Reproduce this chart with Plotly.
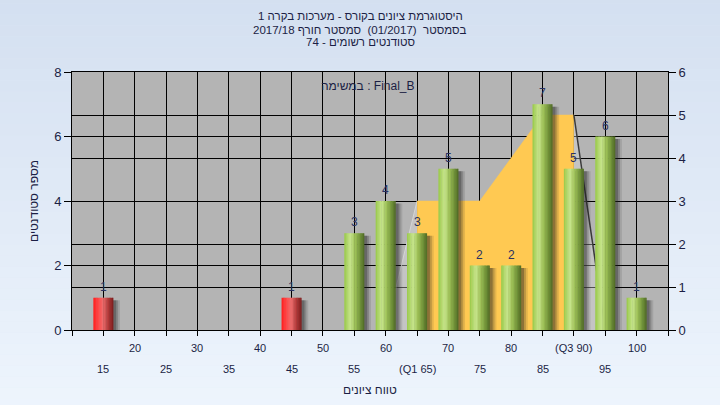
import plotly.graph_objects as go

# ---------------- data ----------------
grades = [15, 20, 25, 30, 35, 40, 45, 50, 55, 60, 65, 70, 75, 80, 85, 90, 95, 100]
counts = [1, 0, 0, 0, 0, 0, 1, 0, 3, 4, 3, 5, 2, 2, 7, 5, 6, 1]
tick_labels = ["15", "20", "25", "30", "35", "40", "45", "50", "55", "60",
               "(Q1 65)", "70", "75", "80", "85", "(Q3 90)", "95", "100"]
pass_grade = 55

box_x = [60, 65, 70, 75, 80, 85, 90, 95]
box_y = [0, 3, 3, 3, 4, 5, 5, 0]
q1, q3 = 65, 90

left_ticks = [0, 2, 4, 6, 8]
right_ticks = [0, 1, 2, 3, 4, 5, 6]

title_lines = [
    "היסטוגרמת ציונים בקורס - מערכות בקרה 1",
    "בסמסטר\u00a0 (01/2017)\u00a0 סמסטר חורף 2017/18",
    "סטודנטים רשומים - 74",
]
task_label = "במשימה : Final_B"
x_title = "טווח ציונים"
y_title = "מספר סטודנטים"

# ---------------- style ----------------
FONT = "Liberation Sans, Arial, DejaVu Sans, sans-serif"
TXT = "#1c1f45"
BAR_W = 3.2
N_BANDS = 14
green_scale = [(0, (152, 200, 72)), (0.3, (200, 230, 142)), (0.55, (156, 192, 86)),
               (0.8, (112, 146, 56)), (1, (78, 104, 36))]
red_scale = [(0, (255, 30, 30)), (0.3, (255, 80, 80)), (0.48, (236, 110, 110)),
             (0.75, (176, 56, 56)), (1, (122, 28, 28))]


def interp(scale, t):
    for (p0, c0), (p1, c1) in zip(scale[:-1], scale[1:]):
        if p0 <= t <= p1:
            f = (t - p0) / (p1 - p0)
            c = [round(a + (b - a) * f) for a, b in zip(c0, c1)]
            return "rgb(%d,%d,%d)" % tuple(c)
    c = scale[-1][1]
    return "rgb(%d,%d,%d)" % c


fig = go.Figure()

# background gradient (paper) and plot area
top_c, bot_c = (211, 223, 240), (238, 245, 253)
n_strips = 40
y_lo, y_hi = -0.35, 1.35
for i in range(n_strips):
    a = y_lo + (y_hi - y_lo) * i / n_strips
    b = y_lo + (y_hi - y_lo) * (i + 1) / n_strips
    f = i / (n_strips - 1)
    c = tuple(round(bc + (tc - bc) * f) for tc, bc in zip(top_c, bot_c))
    fig.add_shape(type="rect", xref="paper", yref="paper", x0=-0.3, x1=1.3,
                  y0=a, y1=b + 0.001, fillcolor="rgb(%d,%d,%d)" % c,
                  line_width=0, layer="below")
fig.add_shape(type="rect", xref="paper", yref="paper", x0=0, x1=1, y0=0, y1=1,
              fillcolor="#b4b4b4", line_width=0, layer="below")

# quartile area (right axis)
lx = [x for x in box_x if x <= q1]
ly = [y for x, y in zip(box_x, box_y) if x <= q1]
mx = [x for x in box_x if q1 <= x <= q3]
my = [y for x, y in zip(box_x, box_y) if q1 <= x <= q3]
rx = [x for x in box_x if x >= q3]
ry = [y for x, y in zip(box_x, box_y) if x >= q3]

fig.add_trace(go.Scatter(x=lx, y=ly, yaxis="y", mode="lines", fill="tozeroy",
                         fillcolor="rgba(225,225,225,0.35)",
                         line=dict(color="rgba(215,215,215,0.9)", width=1),
                         hoverinfo="skip", showlegend=False))
fig.add_trace(go.Scatter(x=mx, y=my, yaxis="y", mode="lines", fill="tozeroy",
                         fillcolor="#ffc952", line=dict(color="#ffc952", width=0.5),
                         hoverinfo="skip", showlegend=False))
fig.add_trace(go.Scatter(x=rx, y=ry, yaxis="y", mode="lines", fill="tozeroy",
                         fillcolor="rgba(225,225,225,0.35)",
                         line=dict(color="#3a3a3a", width=1.5),
                         hoverinfo="skip", showlegend=False))

# bar shadows
for off, alpha in [(1.05, 0.12), (0.75, 0.2), (0.45, 0.3)]:
    fig.add_trace(go.Bar(x=grades, y=[max(c - 0.08, 0) for c in counts], yaxis="y2",
                         width=BAR_W, offset=-BAR_W / 2 + off,
                         marker=dict(color="rgba(30,30,30,%.2f)" % alpha, line_width=0),
                         hoverinfo="skip", showlegend=False))

# cylinder-like bars built of vertical bands
bw = BAR_W / N_BANDS
for i in range(N_BANDS):
    t = (i + 0.5) / N_BANDS
    cols = [interp(red_scale if g < pass_grade else green_scale, t) for g in grades]
    w = bw * 1.3 if i < N_BANDS - 1 else bw
    fig.add_trace(go.Bar(x=grades, y=counts, yaxis="y2", width=w,
                         offset=-BAR_W / 2 + i * bw,
                         marker=dict(color=cols, line_width=0),
                         hoverinfo="skip", showlegend=False))

annotations = []
# value labels above bars
for g, c in zip(grades, counts):
    if c > 0:
        annotations.append(dict(x=g, xref="x", y=c, yref="y2", yanchor="middle",
                                yshift=11, text=str(c), showarrow=False,
                                font=dict(family=FONT, size=12, color="#2a3262")))
# x tick labels in two rows
for i, (g, lab) in enumerate(zip(grades, tick_labels)):
    annotations.append(dict(x=g, xref="x", y=0, yref="paper", yanchor="middle",
                            yshift=-39 if i % 2 == 0 else -17.5, text=lab,
                            showarrow=False, font=dict(family=FONT, size=11, color=TXT)))
# titles
for line, ys in zip(title_lines, [55.6, 42.3, 30.0]):
    annotations.append(dict(x=(360 - 72) / 596, xref="paper", y=1, yref="paper",
                            yanchor="middle", yshift=ys, text=line, showarrow=False,
                            borderpad=0,
                            font=dict(family=FONT, size=11.5, color=TXT)))
annotations.append(dict(x=0.497, xref="paper", y=1, yref="paper", yanchor="middle",
                        yshift=-13.5, text=task_label, showarrow=False,
                        font=dict(family=FONT, size=12, color=TXT)))
annotations.append(dict(x=0.5, xref="paper", y=0, yref="paper", yanchor="middle",
                        yshift=-60, text=x_title, showarrow=False,
                        font=dict(family=FONT, size=12, color=TXT)))
annotations.append(dict(x=(34 - 72) / 596, xref="paper", y=0.5, yref="paper",
                        xanchor="center", yanchor="middle", textangle=-90,
                        text=y_title, showarrow=False,
                        font=dict(family=FONT, size=12, color=TXT)))

fig.update_layout(
    width=720, height=405,
    margin=dict(l=72, r=52, t=72, b=75, pad=0, autoexpand=False),
    paper_bgcolor="#e0eaf6", plot_bgcolor="#b4b4b4",
    barmode="overlay", showlegend=False,
    font=dict(family=FONT, size=12, color=TXT),
    xaxis=dict(range=[10, 105], tickvals=[10] + grades + [105], showticklabels=False,
               ticks="outside", ticklen=5, tickcolor="black", showgrid=True,
               gridcolor="black", gridwidth=1, showline=True, linecolor="black",
               linewidth=1, mirror=True, zeroline=False, automargin=False),
    yaxis=dict(range=[0, 6], side="right", tickvals=right_ticks, ticks="outside",
               ticklen=7, tickcolor="black", showgrid=True, gridcolor="black",
               gridwidth=1, showline=True, linecolor="black", zeroline=False,
               automargin=False, tickfont=dict(family=FONT, size=13, color=TXT)),
    yaxis2=dict(range=[0, 8], side="left", overlaying="y", tickvals=left_ticks,
                ticks="outside", ticklen=7, tickcolor="black", showgrid=True,
                gridcolor="black", gridwidth=1, showline=True, linecolor="black",
                zeroline=False, automargin=False,
                tickfont=dict(family=FONT, size=13, color=TXT)),
    annotations=annotations,
)

fig.write_html("out.html",
               config={"displayModeBar": False, "staticPlot": True},
               post_script="document.body.style.margin='0';"
                           "document.body.style.overflow='hidden';")
